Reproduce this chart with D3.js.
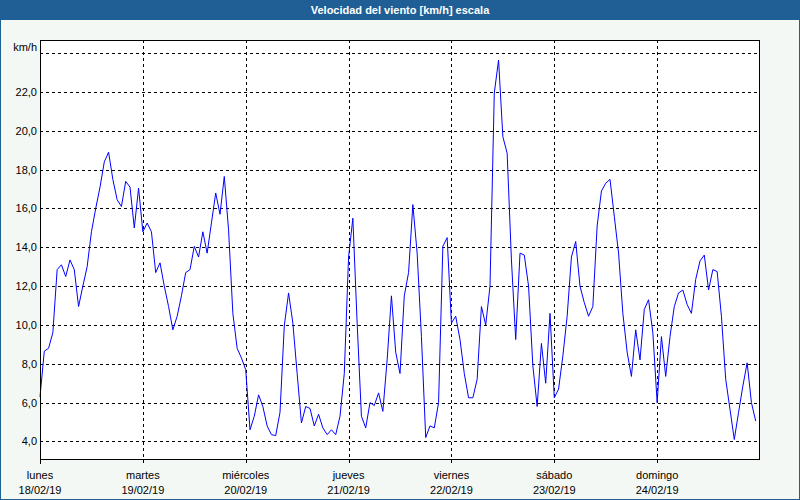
<!DOCTYPE html>
<html>
<head>
<meta charset="utf-8">
<script src="https://cdn.jsdelivr.net/npm/d3@7"></script>
<style>
  body { margin: 0; background: #fff; }
  text { font-family: Tahoma, "Liberation Sans", "DejaVu Sans", sans-serif; }
</style>
</head>
<body>
<div id="chart"></div>
<script>
// hourly wind speed, 18/02/19 00:00 .. 24/02/19 23:00
var speedMon = [6.3, 8.65, 8.8, 9.6, 12.85, 13.1, 12.5, 13.35, 12.85, 10.95, 12.0, 13.0,
                14.8, 16.0, 17.1, 18.4, 18.9, 17.5, 16.45, 16.1, 17.4, 17.1, 15.0, 17.05];
var speedTue = [14.8, 15.25, 14.8, 12.7, 13.2, 12.0, 10.95, 9.75, 10.45, 11.5, 12.7, 12.85,
                14.05, 13.5, 14.8, 13.7, 15.25, 16.8, 15.7, 17.65, 14.9, 10.6, 8.8, 8.3];
var speedWed = [7.7, 4.6, 5.3, 6.4, 5.8, 4.8, 4.35, 4.3, 5.5, 9.95, 11.65, 10.1,
                7.5, 4.95, 5.8, 5.7, 4.8, 5.4, 4.7, 4.35, 4.6, 4.35, 5.3, 7.5];
var speedThu = [13.5, 15.5, 10.1, 5.3, 4.7, 6.0, 5.85, 6.5, 5.55, 8.2, 11.5, 8.6,
                7.5, 11.5, 12.7, 16.2, 13.7, 9.4, 4.2, 4.8, 4.7, 6.0, 14.05, 14.5];
var speedFri = [10.1, 10.45, 9.25, 7.5, 6.25, 6.25, 7.2, 10.95, 10.0, 12.0, 21.95, 23.65,
                19.7, 18.85, 13.35, 9.25, 13.7, 13.6, 12.0, 7.9, 5.8, 9.05, 7.0, 10.6];
var speedSat = [6.25, 6.7, 8.4, 10.45, 13.5, 14.3, 12.0, 11.15, 10.45, 10.95, 15.1, 16.9,
                17.3, 17.5, 15.6, 13.7, 10.6, 8.6, 7.35, 9.75, 8.2, 10.8, 11.3, 9.6];
var speedSun = [6.0, 9.4, 7.35, 9.4, 10.95, 11.65, 11.8, 11.05, 10.6, 12.35, 13.3, 13.6,
                11.8, 12.85, 12.75, 10.45, 7.2, 5.65, 4.1, 5.5, 6.85, 8.05, 6.0, 5.05];

var dayNames = ["lunes", "martes", "miércoles", "jueves", "viernes", "sábado", "domingo"];
var dayDates = ["18/02/19", "19/02/19", "20/02/19", "21/02/19", "22/02/19", "23/02/19", "24/02/19"];
var yTicks = [4, 6, 8, 10, 12, 14, 16, 18, 20, 22, 24];

var speed = [].concat(speedMon, speedTue, speedWed, speedThu, speedFri, speedSat, speedSun);
var start = new Date(2019, 1, 18);
var data = speed.map(function (v, i) {
    return {t: d3.timeHour.offset(start, i), v: v};
});

var W = 800, H = 500;
var plot = {left: 40, right: 760, top: 40, bottom: 459.5};

var svg = d3.select("#chart").append("svg")
    .attr("width", W)
    .attr("height", H);

// background + frame
svg.append("rect")
    .attr("x", 0.5).attr("y", 0.5)
    .attr("width", W - 1).attr("height", H - 1)
    .attr("fill", "#f4f8f4")
    .attr("stroke", "#1f5f96");
svg.append("rect")
    .attr("x", 0).attr("y", 0)
    .attr("width", W).attr("height", 20)
    .attr("fill", "#1f5f96");
svg.append("text")
    .attr("x", W / 2).attr("y", 14)
    .attr("text-anchor", "middle")
    .attr("fill", "#fff")
    .style("font-size", "11px")
    .style("font-weight", "bold")
    .text("Velocidad del viento [km/h] escala");

var x = d3.scaleTime()
    .domain([start, d3.timeDay.offset(start, 7)])
    .range([plot.left, plot.right]);
var y = d3.scaleLinear()
    .domain([3.07, 24.68])
    .range([plot.bottom, plot.top]);

svg.append("rect")
    .attr("x", plot.left).attr("y", plot.top)
    .attr("width", plot.right - plot.left)
    .attr("height", plot.bottom - plot.top)
    .attr("fill", "#fff");

var days = d3.range(7).map(function (i) { return d3.timeDay.offset(start, i); });

// grid
var grid = svg.append("g").style("shape-rendering", "crispEdges");
grid.selectAll(".hg")
    .data(yTicks)
    .enter().append("line")
    .attr("x1", plot.left).attr("x2", plot.right)
    .attr("y1", function (d) { return Math.round(y(d)) + 0.5; })
    .attr("y2", function (d) { return Math.round(y(d)) + 0.5; })
    .attr("stroke", "#000")
    .attr("stroke-dasharray", "3,3");
grid.selectAll(".vg")
    .data(days.slice(1))
    .enter().append("line")
    .attr("x1", function (d) { return Math.round(x(d)) + 0.5; })
    .attr("x2", function (d) { return Math.round(x(d)) + 0.5; })
    .attr("y1", plot.top).attr("y2", plot.bottom + 4)
    .attr("stroke", "#000")
    .attr("stroke-dasharray", "3,3");
grid.append("line")
    .attr("x1", plot.left + 0.5).attr("x2", plot.left + 0.5)
    .attr("y1", plot.bottom).attr("y2", plot.bottom + 4)
    .attr("stroke", "#000");

// series
var line = d3.line()
    .x(function (d) { return x(d.t); })
    .y(function (d) { return y(d.v); });
svg.append("path")
    .datum(data)
    .attr("d", line)
    .attr("fill", "none")
    .attr("stroke", "#0000ff")
    .attr("stroke-width", 1);

// plot border
svg.append("rect")
    .attr("x", plot.left + 0.5).attr("y", plot.top + 0.5)
    .attr("width", plot.right - plot.left - 1)
    .attr("height", plot.bottom - plot.top - 1)
    .attr("fill", "none")
    .attr("stroke", "#000")
    .style("shape-rendering", "crispEdges");

// y labels
var fmt = function (d) { return d3.format(".1f")(d).replace(".", ","); };
svg.selectAll(".yl")
    .data(yTicks.filter(function (d) { return d < 24; }))
    .enter().append("text")
    .attr("x", 37)
    .attr("y", function (d) { return y(d) + 4; })
    .attr("text-anchor", "end")
    .attr("fill", "#000")
    .style("font-size", "11px")
    .text(fmt);
svg.append("text")
    .attr("x", 37).attr("y", 51)
    .attr("text-anchor", "end")
    .style("font-size", "11px")
    .text("km/h");

// x labels
var xl = svg.selectAll(".xl")
    .data(days)
    .enter().append("g")
    .attr("transform", function (d) { return "translate(" + x(d) + ",0)"; });
xl.append("text")
    .attr("y", 479)
    .attr("text-anchor", "middle")
    .style("font-size", "11px")
    .text(function (d, i) { return dayNames[i]; });
xl.append("text")
    .attr("y", 494)
    .attr("text-anchor", "middle")
    .style("font-size", "11px")
    .text(function (d, i) { return dayDates[i]; });
</script>
</body>
</html>
